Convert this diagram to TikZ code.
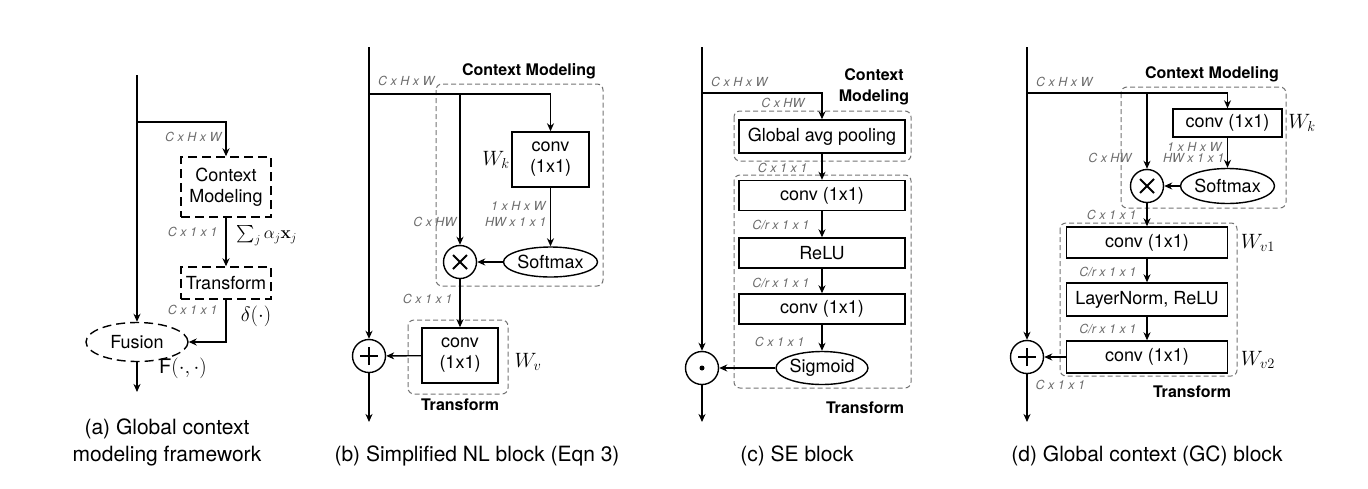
\documentclass[tikz,border=0pt]{standalone}
\usepackage[no-math]{fontspec}
\setmainfont{TeX Gyre Heros}
\usepackage{amsmath}
\usepackage{tikz}
\usetikzlibrary{positioning, arrows.meta, shapes.geometric}

\begin{document}
\begin{tikzpicture}[
    x=1pt, y=-1pt,
    line width=1.4pt,
    >={Stealth[length=8pt,width=7pt,inset=2.5pt]},
    block/.style={draw, line width=1.4pt, inner sep=0pt, align=center, font=\fontsize{18}{21}\selectfont},
    loose/.style={draw, dash pattern=on 9pt off 5pt, line width=1.4pt, inner sep=0pt, align=center, font=\fontsize{18}{21}\selectfont},
    group/.style={draw=black!55, dash pattern=on 5pt off 3pt, line width=1pt, rounded corners=6pt},
    oval/.style={ellipse, draw, line width=1.4pt, inner sep=0pt, font=\fontsize{18}{21}\selectfont},
    op/.style={circle, draw, line width=1.4pt, inner sep=0pt, minimum size=33pt},
    otimes/.style={op, path picture={
        \draw[line width=2pt] ([xshift=-7pt,yshift=-7pt]path picture bounding box.center) -- ([xshift=7pt,yshift=7pt]path picture bounding box.center);
        \draw[line width=2pt] ([xshift=-7pt,yshift=7pt]path picture bounding box.center) -- ([xshift=7pt,yshift=-7pt]path picture bounding box.center);}},
    oplus/.style={op, path picture={
        \draw[line width=2pt] ([xshift=-9pt]path picture bounding box.center) -- ([xshift=9pt]path picture bounding box.center);
        \draw[line width=2pt] ([yshift=-9pt]path picture bounding box.center) -- ([yshift=9pt]path picture bounding box.center);}},
    odot/.style={op, path picture={\fill (path picture bounding box.center) circle (2.5pt);}},
    dims/.style={inner sep=0pt, text=black!58, font=\fontsize{12.5}{14}\selectfont\itshape},
    head/.style={inner sep=0pt, align=center, font=\fontsize{16}{21}\selectfont\bfseries},
    wlabel/.style={inner sep=0pt, font=\fontsize{20}{22}\selectfont},
    caption/.style={inner sep=0pt, align=center, font=\fontsize{21}{27}\selectfont}
]
\useasboundingbox (0,0) rectangle (1368,488);

% (a) general framework
\begin{scope}[xshift=137pt]
    \coordinate (aIn) at (0,75);
    \coordinate (aSplit) at (0,122);
    \node[loose, minimum width=90pt, minimum height=60pt] (aCtx) at (89,187) {Context\\Modeling};
    \node[loose, minimum width=90pt, minimum height=32pt] (aTr) at (89,283) {Transform};
    \node[oval, dash pattern=on 9pt off 5pt, minimum width=102pt, minimum height=39pt] (aFuse) at (0,342) {Fusion};
    \coordinate (aOut) at (0,392);
    \draw[->] (aIn) -- (aFuse.north);
    \draw[->] (aSplit) -| (aCtx.north);
    \draw[->] (aCtx) -- (aTr);
    \draw[->] (aTr.south) |- (aFuse.east);
    \draw[->] (aFuse) -- (aOut);
    % tensor sizes and operators
    \node[dims, anchor=east] (aDimIn) at (85,137) {C x H x W};
    \node[dims, anchor=east] (aDimCtx) at (81,232) {C x 1 x 1};
    \node[dims, anchor=east] (aDimTr) at (81,310) {C x 1 x 1};
    \node[wlabel, anchor=west, font=\fontsize{18}{20}\selectfont] (aSum) at (99,236) {$\sum_j \alpha_j \mathbf{x}_j$};
    \node[wlabel] (aDelta) at (119,316) {$\delta(\cdot)$};
    \node[wlabel] (aF) at (46,368) {F$(\cdot,\cdot)$};
    \node[caption] (aCap) at (30,442) {(a) Global context\\modeling framework};
\end{scope}

% (b) simplified NL block
\begin{scope}[xshift=369pt]
    \coordinate (bIn) at (0,47);
    \coordinate (bSplit) at (0,94);
    \coordinate (bFork) at (91,94);
    \draw[group] (67,84) rectangle (234,286);
    \draw[group] (39,320) rectangle (139,394);
    \node[block, minimum width=77pt, minimum height=55pt] (bKey) at (181.5,159.5) {conv\\(1x1)};
    \node[oval, minimum width=82pt, minimum height=30pt] (bSoft) at (181.5,262) {Softmax};
    \node[otimes] (bMul) at (91,262) {};
    \node[block, minimum width=76pt, minimum height=55pt] (bVal) at (91,355.5) {conv\\(1x1)};
    \node[oplus] (bAdd) at (0,356) {};
    \coordinate (bOut) at (0,422);
    \draw[->] (bIn) -- (bAdd.north);
    \draw[->] (bSplit) -| (bKey.north);
    \draw[->] (bFork) -- (bMul.north);
    \draw[->] (bKey) -- (bSoft);
    \draw[->] (bSoft) -- (bMul);
    \draw[->] (bMul) -- (bVal);
    \draw[->] (bVal) -- (bAdd);
    \draw[->] (bAdd) -- (bOut);
    % labels
    \node[head] (bHeadCtx) at (160,71) {Context Modeling};
    \node[head] (bHeadTr) at (91,405) {Transform};
    \node[dims, anchor=east] (bDimIn) at (66,81) {C x H x W};
    \node[dims, anchor=east] (bDimK1) at (177,206) {1 x H x W};
    \node[dims, anchor=east] (bDimK2) at (178,222) {HW x 1 x 1};
    \node[dims, anchor=east] (bDimV) at (88,222) {C x HW};
    \node[dims, anchor=east] (bDimOut) at (84,299) {C x 1 x 1};
    \node[wlabel] (bWk) at (127,160) {$W_k$};
    \node[wlabel] (bWv) at (159,362) {$W_v$};
    \node[caption] (bCap) at (108,456) {(b) Simplified NL block (Eqn 3)};
\end{scope}

% (c) SE block
\begin{scope}[xshift=702pt]
    \coordinate (cIn) at (0,47);
    \coordinate (cSplit) at (0,93);
    \draw[group] (32,111) rectangle (209,161);
    \draw[group] (32,175) rectangle (209,388);
    \node[block, minimum width=166pt, minimum height=33pt] (cPool) at (120,136.5) {Global avg pooling};
    \foreach \name/\y/\txt in {cFc1/195.5/conv (1x1), cRelu/253/ReLU, cFc2/309/conv (1x1)} {
        \node[block, minimum width=166pt, minimum height=30pt] (\name) at (120,\y) {\txt};
    }
    \node[oval, minimum width=73pt, minimum height=33pt] (cSig) at (120,368) {Sigmoid};
    \node[odot] (cMul) at (0,368) {};
    \coordinate (cOut) at (0,422);
    \draw[->] (cIn) -- (cMul.north);
    \draw[->] (cSplit) -| (cPool.north);
    \draw[->] (cPool) -- (cFc1);
    \draw[->] (cFc1) -- (cRelu);
    \draw[->] (cRelu) -- (cFc2);
    \draw[->] (cFc2) -- (cSig);
    \draw[->] (cSig) -- (cMul);
    \draw[->] (cMul) -- (cOut);
    % labels
    \node[head] (cHeadCtx) at (172,86.5) {Context\\Modeling};
    \node[head] (cHeadTr) at (163,408) {Transform};
    \node[dims, anchor=east] (cDimIn) at (66,82) {C x H x W};
    \node[dims, anchor=east] (cDimFlat) at (103,103) {C x HW};
    \node[dims, anchor=east] (cDimPool) at (106,168) {C x 1 x 1};
    \node[dims, anchor=east] (cDimFc1) at (108,225) {C/r x 1 x 1};
    \node[dims, anchor=east] (cDimRelu) at (108,283) {C/r x 1 x 1};
    \node[dims, anchor=east] (cDimFc2) at (103,342) {C x 1 x 1};
    \node[caption] (cCap) at (95,456) {(c) SE block};
\end{scope}

% (d) GC block
\begin{scope}[xshift=1027pt]
    \coordinate (dIn) at (0,47);
    \coordinate (dSplit) at (0,93);
    \coordinate (dFork) at (120,93);
    \draw[group] (94,87) rectangle (259,208);
    \draw[group] (33,223) rectangle (210,376);
    \node[block, minimum width=109pt, minimum height=28pt] (dKey) at (200.5,123) {conv (1x1)};
    \node[oval, minimum width=82pt, minimum height=35pt] (dSoft) at (200.5,186) {Softmax};
    \node[otimes] (dMul) at (120,186) {};
    \node[block, minimum width=161pt, minimum height=31pt] (dFc1) at (120,242.5) {conv (1x1)};
    \node[block, minimum width=161pt, minimum height=33pt] (dNorm) at (120,299.5) {LayerNorm, ReLU};
    \node[block, minimum width=161pt, minimum height=32pt] (dFc2) at (120,357) {conv (1x1)};
    \node[oplus] (dAdd) at (0,357) {};
    \coordinate (dOut) at (0,422);
    \draw[->] (dIn) -- (dAdd.north);
    \draw[->] (dSplit) -| (dKey.north);
    \draw[->] (dFork) -- (dMul.north);
    \draw[->] (dKey) -- (dSoft);
    \draw[->] (dSoft) -- (dMul);
    \draw[->] (dMul) -- (dFc1);
    \draw[->] (dFc1) -- (dNorm);
    \draw[->] (dNorm) -- (dFc2);
    \draw[->] (dFc2) -- (dAdd);
    \draw[->] (dAdd) -- (dOut);
    % labels
    \node[head] (dHeadCtx) at (185,74) {Context Modeling};
    \node[head] (dHeadTr) at (165,392) {Transform};
    \node[dims, anchor=east] (dDimIn) at (66,82) {C x H x W};
    \node[dims, anchor=east] (dDimK1) at (195,147) {1 x H x W};
    \node[dims, anchor=east] (dDimK2) at (198,158) {HW x 1 x 1};
    \node[dims, anchor=east] (dDimV) at (105,158) {C x HW};
    \node[dims, anchor=east] (dDimMul) at (110,215) {C x 1 x 1};
    \node[dims, anchor=east] (dDimFc1) at (110,272) {C/r x 1 x 1};
    \node[dims, anchor=east] (dDimNorm) at (110,329) {C/r x 1 x 1};
    \node[dims, anchor=west] (dDimOut) at (8,385) {C x 1 x 1};
    \node[wlabel] (dWk) at (275,123) {$W_k$};
    \node[wlabel] (dWv1) at (231,243) {$W_{v1}$};
    \node[wlabel] (dWv2) at (231,360) {$W_{v2}$};
    \node[caption] (dCap) at (120,456) {(d) Global context (GC) block};
\end{scope}

\end{tikzpicture}
\end{document}
